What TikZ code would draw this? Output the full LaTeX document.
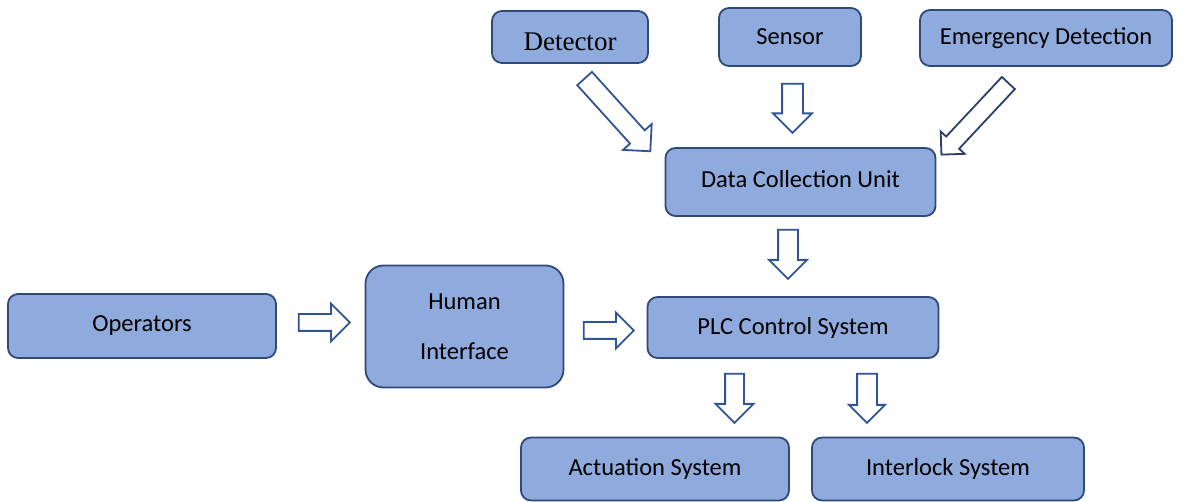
\documentclass[tikz,border=0pt]{standalone}
\usepackage{fontspec}
\setmainfont{Carlito}
\newfontfamily\detfont{Liberation Serif}
\usetikzlibrary{shapes.arrows,calc}
\definecolor{boxfill}{HTML}{8FAADC}
\definecolor{boxline}{HTML}{2F4A78}
\definecolor{arrline}{HTML}{2F5597}
\definecolor{arrdark}{HTML}{2B4068}
\tikzset{
  blk/.style={draw=boxline, fill=boxfill, line width=1.8pt, rounded corners=10pt,
    inner sep=0pt, font=\fontsize{24.5}{50}\selectfont, align=center},
  barrow/.style={single arrow, draw=arrline, fill=white, line width=1.8pt,
    inner xsep=0pt, single arrow tip angle=90, anchor=tail},
}
\begin{document}
\begin{tikzpicture}[x=1pt,y=-1pt]
\useasboundingbox (0,0) rectangle (1186,502);
% boxes
\node[blk, minimum width=156, minimum height=52, text height=28pt, text depth=0pt, font=\detfont\fontsize{27}{30}\selectfont] (det) at (570,37) {Detector};
\node[blk, minimum width=142, minimum height=58] (sen) at (790,37) {Sensor};
\node[blk, minimum width=252, minimum height=56] (emg) at (1046,38) {Emergency Detection};
\node[blk, minimum width=270, minimum height=68, text height=12pt, text depth=0pt] (dcu) at (800.5,182) {Data Collection Unit};
\node[blk, minimum width=291, minimum height=61] (plc) at (793,327.5) {PLC Control System};
\node[blk, minimum width=198, minimum height=122, rounded corners=18pt] (hi) at (464.5,326.5) {Human\\Interface};
\node[blk, minimum width=268, minimum height=64] (op) at (142,326) {Operators};
\node[blk, minimum width=268, minimum height=63] (act) at (655,469) {Actuation System};
\node[blk, minimum width=272, minimum height=63] (int) at (948,469) {Interlock System};
% block arrows
\node[barrow, inner ysep=9pt, single arrow head extend=9.4pt, minimum height=98, rotate=-47.9]
  (a1) at ($(det.south)+(14,14)$) {};
\node[barrow, inner ysep=9.5pt, single arrow head extend=9pt, minimum height=49, rotate=-90]
  (a2) at ($(sen.south)+(2.5,16)$) {};
\node[barrow, draw=arrdark, inner ysep=8pt, single arrow head extend=7.5pt, minimum height=98, rotate=-133.1]
  (a3) at ($(emg.south)+(-37,15.5)$) {};
\node[barrow, inner ysep=9pt, single arrow head extend=9pt, minimum height=49, rotate=-90]
  (a4) at ($(dcu.south)+(-12.5,12)$) {};
\node[barrow, inner ysep=7.5pt, single arrow head extend=10.5pt, minimum height=51]
  (a5) at ($(op.east)+(21,-3.5)$) {};
\node[barrow, inner ysep=7.5pt, single arrow head extend=9.5pt, minimum height=50]
  (a6) at ($(hi.east)+(18.5,4)$) {};
\node[barrow, inner ysep=8.5pt, single arrow head extend=9.5pt, minimum height=49, rotate=-90]
  (a7) at ($(plc.south)+(-58.5,14)$) {};
\node[barrow, inner ysep=9pt, single arrow head extend=8pt, minimum height=49, rotate=-90]
  (a8) at ($(plc.south)+(74,14)$) {};
\end{tikzpicture}
\end{document}
